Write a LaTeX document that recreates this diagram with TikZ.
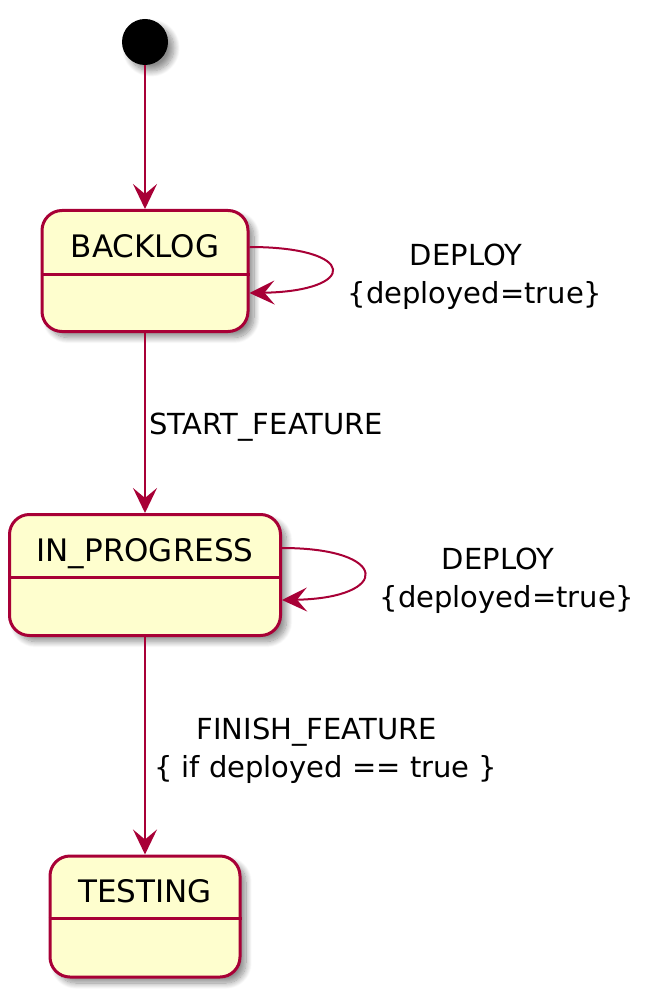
\documentclass[tikz,border=0pt]{standalone}
\usepackage{fontspec}
\setmainfont{DejaVu Sans}
\usetikzlibrary{shadows,shadows.blur,arrows.meta}
\definecolor{umlred}{HTML}{A80036}
\definecolor{umlfill}{HTML}{FEFECE}
\begin{document}
\begin{tikzpicture}[x=1pt,y=-1pt,
  shade/.style={blur shadow={shadow xshift=6pt, shadow yshift=-6pt, shadow blur steps=12, shadow blur radius=6pt, shadow opacity=45}},
  state/.style={draw=umlred, line width=3pt, fill=umlfill, rounded corners=20pt, minimum height=121pt, inner sep=0pt, shade},
  title/.style={font=\fontsize{31}{37}\selectfont, anchor=base, inner sep=0pt},
  lbl/.style={font=\fontsize{29}{38}\selectfont, align=center, inner sep=3pt},
  edge/.style={draw=umlred, line width=2pt, -{Stealth[length=25pt,width=24pt,inset=10pt]}},
  divider/.style={draw=umlred, line width=3pt},
]
\useasboundingbox (0,0) rectangle (650,1000);
% start
\node[circle, fill=black, minimum size=46pt, inner sep=0pt, shade] (st) at (145,42) {};
% states
\node[state, minimum width=206pt] (bk) at (145,271) {};
\node[title] (bkt) at (145,257) {BACKLOG};
\draw[divider] ([yshift=-65pt]bk.north west) -- ([yshift=-65pt]bk.north east);

\node[state, minimum width=271pt] (ip) at (145,575) {};
\node[title] (ipt) at (145,561) {IN\_PROGRESS};
\draw[divider] ([yshift=-64pt]ip.north west) -- ([yshift=-64pt]ip.north east);

\node[state, minimum width=190pt] (ts) at (145,916.5) {};
\node[title] (tst) at (145,902) {TESTING};
\draw[divider] ([yshift=-64pt]ts.north west) -- ([yshift=-64pt]ts.north east);
% edges
\draw[edge] (st) -- (bk);
\draw[edge] (bk) -- node[lbl, anchor=west, yshift=-4pt] (l1) {START\_FEATURE} (ip);
\draw[edge] (ip) -- node[lbl, anchor=west, xshift=5pt, yshift=-5pt] (l2) {FINISH\_FEATURE\hspace*{18pt}\\\{ if deployed == true \}} (ts);
% self loops
\draw[edge] ([yshift=24pt]bk.east) .. controls +(109,0) and +(109,-2) .. ([yshift=-22pt]bk.east);
\draw[edge] ([yshift=27pt]ip.east) .. controls +(109,0) and +(109,-2) .. ([yshift=-25pt]ip.east);
\node[lbl] (bkl) at (475,277) {DEPLOY\hspace*{18pt}\\\{deployed=true\}};
\node[lbl] (ipl) at (507,581) {DEPLOY\hspace*{18pt}\\\{deployed=true\}};
\end{tikzpicture}
\end{document}
